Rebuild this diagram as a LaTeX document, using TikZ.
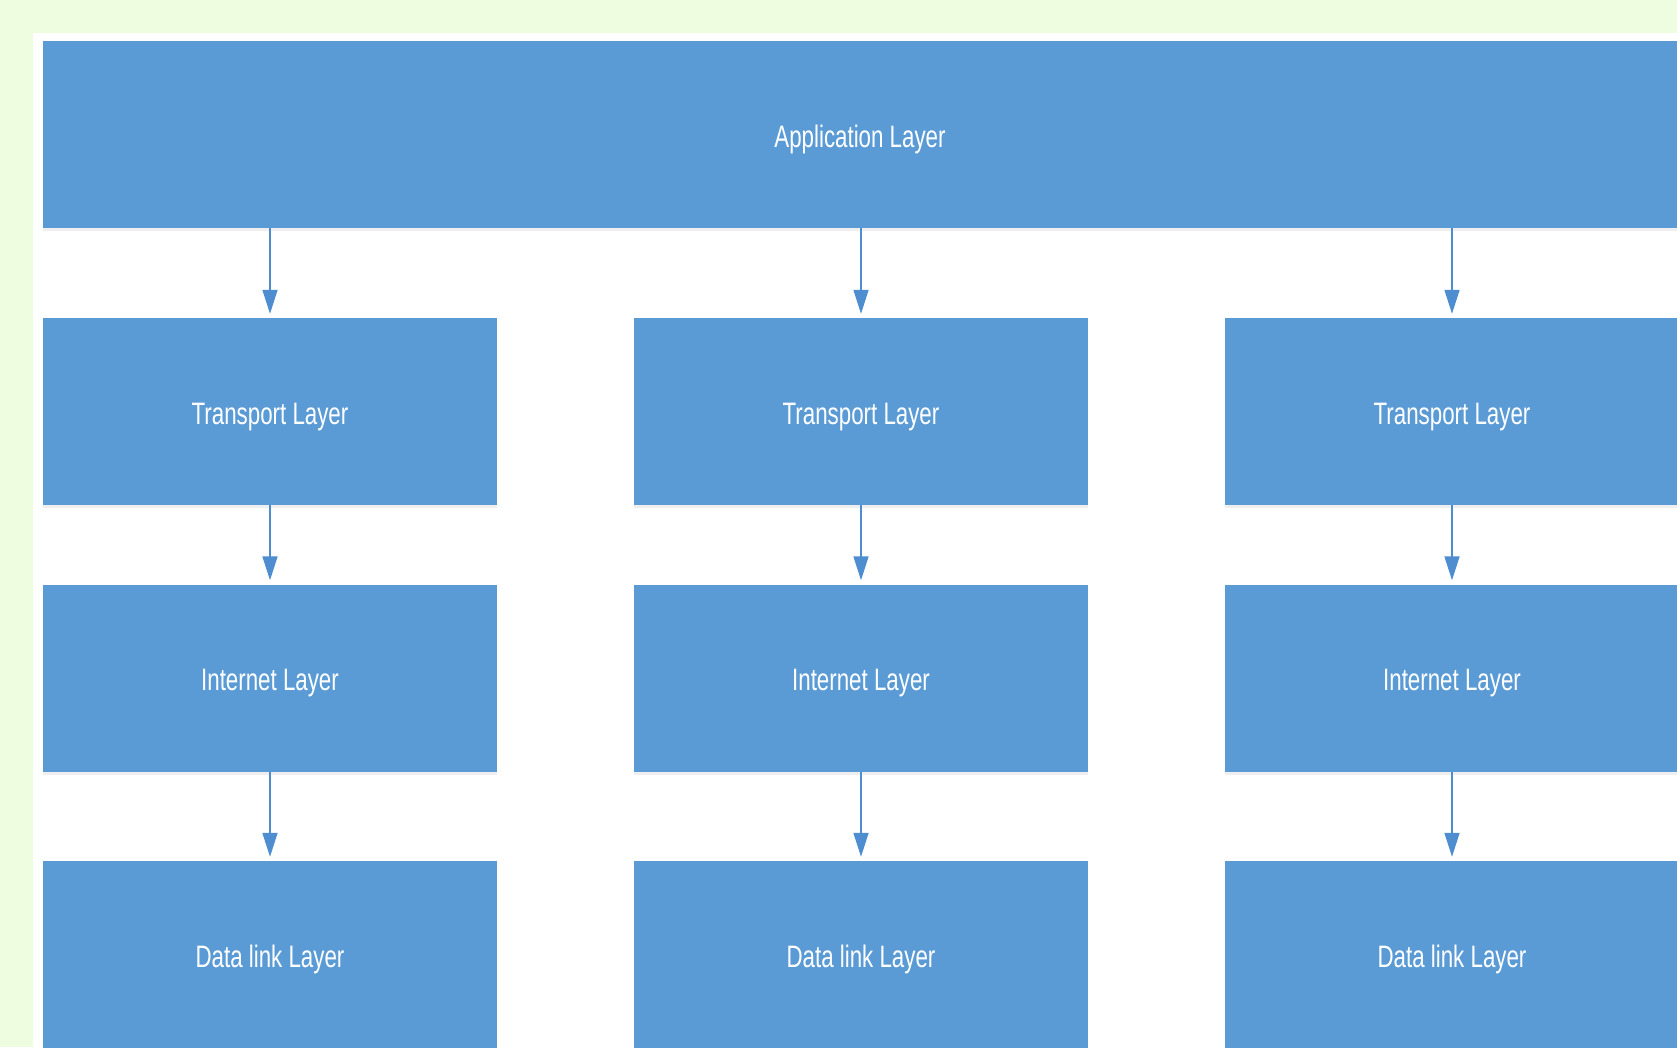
\documentclass[tikz,border=0pt]{standalone}
\usepackage{fontspec}
\setmainfont{Liberation Sans}[FakeStretch=0.72]
\usetikzlibrary{arrows.meta,shadows}
\definecolor{layerblue}{HTML}{5B9BD5}
\definecolor{arrowblue}{HTML}{4E8ED0}
\definecolor{pagegreen}{HTML}{EEFCE0}

\begin{document}
\begin{tikzpicture}[x=1pt,y=-1pt,
  layer/.style={fill=layerblue,text=white,font=\fontsize{31}{36}\selectfont,text height=25pt,text depth=0pt,minimum width=454pt,minimum height=187pt,inner sep=0pt,
    drop shadow={shadow xshift=0pt,shadow yshift=-3pt,opacity=0.12}},
  flow/.style={draw=arrowblue,line width=1.6pt,-{Triangle[width=15pt,length=24pt]},shorten >=4pt}]
\useasboundingbox (0,0) rectangle (1677,1047);
\fill[pagegreen] (0,0) rectangle (1677,1047); \fill[white] (33,33) rectangle (1677,1047);
\node[layer,minimum width=1634pt] (app) at (860,134.5) {Application Layer};
\foreach \c/\x in {a/270,b/861,c/1452} {
  \node[layer] (tr\c) at (\x,411.5) {Transport Layer};
  \node[layer] (in\c) at (\x,678) {Internet Layer};
  \node[layer] (dl\c) at (\x,954.5) {Data link Layer};
  \draw[flow] (app.south -| tr\c.north) -- (tr\c.north); \draw[flow] (tr\c) -- (in\c); \draw[flow] (in\c) -- (dl\c);
};
\end{tikzpicture}
\end{document}
